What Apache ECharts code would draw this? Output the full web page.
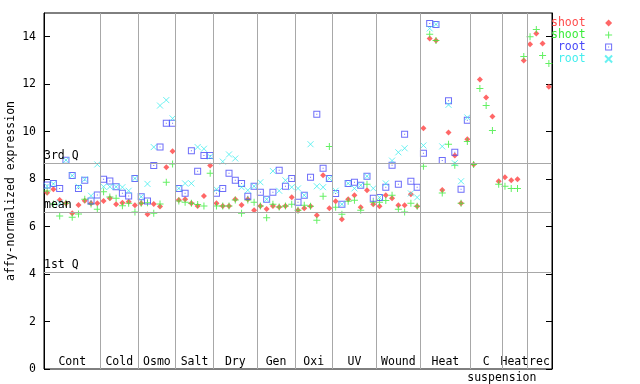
<!DOCTYPE html>
<html><head><meta charset="utf-8">
<script src="https://cdn.jsdelivr.net/npm/echarts@6/dist/echarts.min.js"></script>
<style>html,body{margin:0;padding:0;background:#fff}#c{width:640px;height:384px}</style>
</head><body><div id="c"></div>
<script>
// ---- data ----
const categories = ['Cont','Cold','Osmo','Salt','Dry','Gen','Oxi','UV','Wound','Heat','C','Heat','rec'];
const groupSizes = [9,6,6,6,7,6,6,7,7,8,5,4,4];
const subLabel = 'suspension';
const yTicks = [0,2,4,6,8,10,12,14];
const quartileLabels = ['3rd Q','mean','1st Q'];
const quartileValues = [8.67, 6.6, 4.08];

const shootRed = [
  7.43,7.57,7.12,6.98,6.56,6.91,7.09,6.98,6.98,
  7.08,7.19,6.94,7.01,7.05,6.9,
  6.98,6.52,6.95,6.85,8.5,9.18,
  7.12,7.15,6.98,6.87,7.29,8.57,
  6.98,6.87,6.87,7.15,6.91,7.15,6.69,
  6.87,6.74,6.87,6.83,6.87,7.24,
  6.69,6.77,6.86,6.48,8.16,6.77,
  7.07,6.31,7.15,7.32,6.82,7.53,6.94,
  6.86,7.32,7.19,6.9,6.9,7.36,6.86,
  10.14,13.93,13.84,7.54,9.97,9.0,6.98,9.68,
  8.62,12.2,11.44,10.64,7.91,
  8.08,7.95,7.99,13.0,
  13.68,14.14,13.71,11.89
];
const shootGreen = [
  7.5,6.95,6.45,6.98,6.39,6.53,7.15,6.95,6.73,
  7.47,7.25,7.19,6.88,6.98,6.61,
  6.98,7.0,6.56,6.95,7.87,8.64,
  7.08,7.03,6.98,6.93,6.87,8.25,
  6.87,6.87,6.87,7.12,6.56,7.12,7.03,
  6.87,6.37,6.94,6.83,6.87,6.94,
  6.69,6.9,6.86,6.27,7.28,9.37,
  6.82,6.52,7.07,7.11,6.69,7.78,7.03,
  7.03,7.1,7.32,6.73,6.61,6.98,6.86,
  8.54,14.1,13.84,7.42,9.47,8.58,6.98,9.59,
  8.62,11.82,11.1,10.05,7.78,
  7.7,7.61,7.61,13.17,
  14.0,14.3,13.21,12.87
];
const rootBlue = [
  7.75,7.82,7.61,8.8,8.15,7.61,7.95,7.08,7.33,
  7.99,7.92,7.68,7.4,7.29,8.03,
  7.26,7.08,8.57,9.35,10.35,10.35,
  7.61,7.4,9.2,8.33,9.0,9.0,
  7.4,7.61,8.25,7.95,7.82,7.28,7.7,
  7.45,7.15,7.45,8.37,7.7,8.03,
  7.03,7.32,8.08,10.73,8.46,8.03,
  7.39,6.94,7.82,7.87,7.74,8.12,7.19,
  7.23,7.66,8.58,7.78,9.89,7.91,7.66,
  9.09,14.56,14.52,8.79,11.3,9.13,7.57,10.48,
  null,null,null,null,null,
  null,null,null,null,
  null,null,null,null
];
const rootCyan = [
  7.7,7.8,7.0,8.8,8.15,7.68,7.99,7.3,8.62,
  7.68,7.68,7.68,7.66,7.51,8.03,
  7.26,7.8,9.35,11.1,11.33,10.56,
  7.61,7.82,7.82,9.35,9.28,8.95,
  7.57,8.74,9.04,8.87,7.66,7.53,7.7,
  7.87,7.15,8.34,7.51,7.95,7.66,
  7.61,7.32,9.47,7.7,7.66,8.03,
  7.51,6.94,7.82,7.61,7.74,8.12,7.61,
  7.23,7.82,8.78,9.13,9.3,7.4,7.23,
  9.42,14.35,14.52,9.38,11.13,8.67,7.91,10.6,
  null,null,null,null,null,
  null,null,null,null,
  null,null,null,null
];

// ---- derived ----
const bounds = [0];
groupSizes.forEach(s => bounds.push(bounds[bounds.length-1] + s));
const total = bounds[bounds.length-1];
const centers = groupSizes.map((s,i) => bounds[i] + s/2);
const centerLabel = {};
centers.forEach((c,i) => centerLabel[c] = categories[i]);
const subPos = bounds[11];
const toPts = arr => arr.map((v,i) => v == null ? null : [i + 0.5, v]).filter(Boolean);

const mono = 'DejaVu Sans Mono';
const fs = 11.5;
const RED = '#ff4c4c', GREEN = '#3cec3c', BLUE = '#4848f8', CYAN = '#44eeee';

const chart = echarts.init(document.getElementById('c'), null, {renderer:'canvas'});
chart.setOption({
  animation: false,
  backgroundColor: '#fff',
  grid: {left: 44, right: 88, top: 13, bottom: 15, containLabel: false, outerBoundsMode: 'none',
    show: true, borderColor: '#000', borderWidth: 1, backgroundColor: 'transparent'},
  legend: {
    orient: 'vertical', left: 551, top: 17, align: 'right',
    itemWidth: 36, itemHeight: 7, itemGap: 0, padding: 0,
    textStyle: {fontFamily: mono, fontSize: fs, lineHeight: 11},
    formatter: n => n.replace(/\d/g, ''),
    data: [
      {name: 'shoot1', textStyle: {color: RED}},
      {name: 'shoot2', textStyle: {color: GREEN}},
      {name: 'root1', textStyle: {color: BLUE}},
      {name: 'root2', textStyle: {color: CYAN}}
    ]
  },
  xAxis: [{
    type: 'value', min: 0, max: total, position: 'bottom',
    axisLine: {show: false}, axisTick: {show: false}, splitLine: {show: false},
    axisLabel: {show: true, inside: true, margin: 1, customValues: centers,
      formatter: v => centerLabel[v] || '', color: '#000', fontFamily: mono, fontSize: fs}
  }],
  yAxis: [{
    type: 'value', min: 0, max: 15, position: 'left',
    name: 'affy-normalized expression', nameLocation: 'middle', nameGap: 27, nameMoveOverlap: false,
    nameTextStyle: {fontFamily: mono, fontSize: fs, color: '#000'},
    axisLine: {show: true, lineStyle: {color: '#000'}},
    axisTick: {show: true, inside: true, length: 6, customValues: yTicks, lineStyle: {color: '#000'}},
    axisLabel: {customValues: yTicks, margin: 8, color: '#000', fontFamily: mono, fontSize: fs},
    splitLine: {show: false}
  }, {
    type: 'value', min: 0, max: 15, position: 'right',
    axisLine: {show: true, lineStyle: {color: '#000'}},
    axisTick: {show: true, inside: true, length: 6, customValues: yTicks, lineStyle: {color: '#000'}},
    axisLabel: {show: false},
    splitLine: {show: false}
  }],
  series: [
    {
      type: 'scatter', name: '_lines', data: [], z: 1, silent: true,
      markLine: {
        silent: true, symbol: 'none', animation: false,
        lineStyle: {color: '#a8a8a8', width: 1, type: 'solid'},
        data: bounds.slice(1, -1).map(b => ({xAxis: b, label: {show: false}}))
          .concat(quartileValues.map((q,i) => ({
            yAxis: q,
            label: {show: true, position: 'insideStartTop', formatter: quartileLabels[i],
              color: '#000', fontFamily: mono, fontSize: fs, distance: [0, 1]}
          })))
      }
    },
    {type: 'scatter', name: 'shoot1', z: 3, data: toPts(shootRed),
      symbol: 'path://M3,0L6,3L3,6L0,3Z', symbolSize: 6,
      symbolKeepAspect: true, itemStyle: {color: RED, opacity: 0.85}},
    {type: 'scatter', name: 'shoot2', z: 3, data: toPts(shootGreen),
      symbol: 'path://M3,0h1v3h3v1h-3v3h-1v-3h-3v-1h3z', symbolSize: 7, symbolKeepAspect: true,
      itemStyle: {color: GREEN}},
    {type: 'scatter', name: 'root1', z: 3, data: toPts(rootBlue),
      symbol: 'path://M0,0h7v7h-7z M1,1v5h5v-5z M3,3h1v1h-1z', symbolSize: 7, symbolKeepAspect: true,
      itemStyle: {color: BLUE}},
    {type: 'scatter', name: 'root2', z: 3, data: toPts(rootCyan),
      symbol: 'path://M0,0L7,7M7,0L0,7', symbolSize: 6, symbolKeepAspect: true,
      itemStyle: {color: 'rgba(0,0,0,0)', borderColor: CYAN, borderWidth: 1}}
  ]
});
// second-line label under the "C" group, positioned through the x scale
const subPx = chart.convertToPixel({xAxisIndex: 0}, subPos);
const bottomPx = chart.convertToPixel({yAxisIndex: 0}, 0);
chart.setOption({
  graphic: [{
    type: 'text', x: subPx, y: bottomPx + 3, silent: true,
    style: {text: subLabel, fill: '#000', font: fs + 'px "' + mono + '"', align: 'center', verticalAlign: 'top'}
  }]
});
</script>
</body></html>
